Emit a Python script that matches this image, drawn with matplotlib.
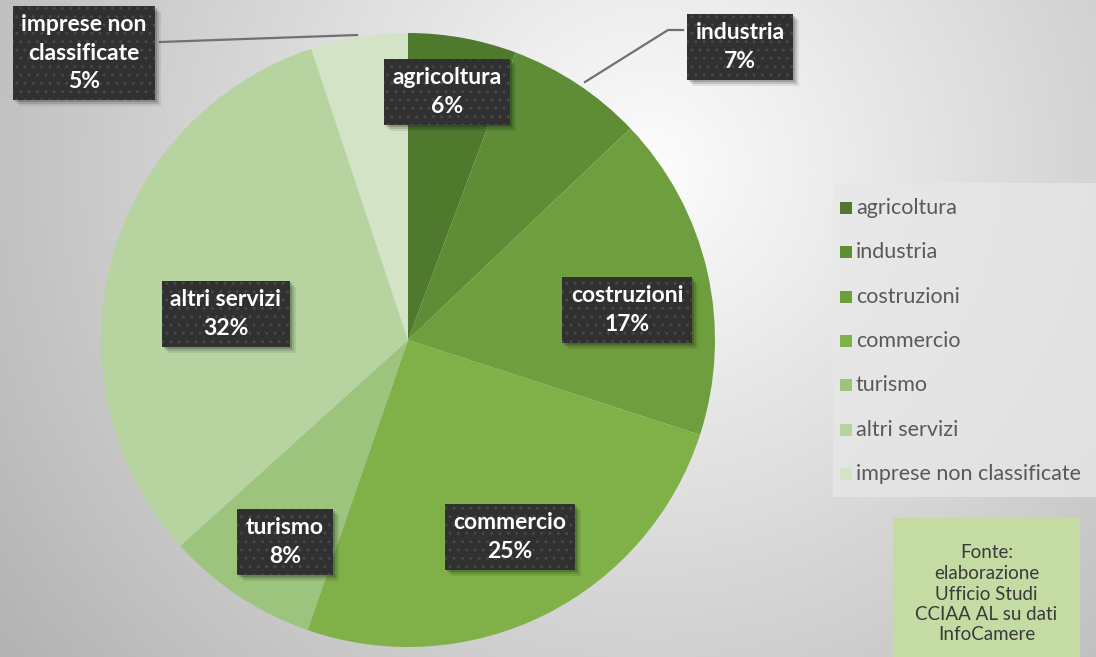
import matplotlib

matplotlib.use("Agg")
import matplotlib.pyplot as plt
import numpy as np
from matplotlib.patches import Rectangle

plt.rcParams["font.family"] = ["Lato", "DejaVu Sans"]

# share of firms by sector (percent, clockwise from 12 o'clock)
categories = ["agricoltura", "industria", "costruzioni", "commercio",
              "turismo", "altri servizi", "imprese non classificate"]
values = [5.7, 7.2, 17.1, 25.3, 8.0, 31.6, 5.1]
colors = ["#4f7a2e", "#5f8d36", "#6f9e3e", "#80b148",
          "#9cc47c", "#b6d3a0", "#d2e3c6"]
box_labels = ["agricoltura", "industria", "costruzioni", "commercio",
              "turismo", "altri servizi", "imprese non\nclassificate"]
source_text = "Fonte:\nelaborazione\nUfficio Studi\nCCIAA AL su dati\nInfoCamere"

W, H = 1096, 657
fig = plt.figure(figsize=(W / 100, H / 100), dpi=100)
ax = fig.add_axes([0, 0, 1, 1])

# soft radial grey background
yy, xx = np.mgrid[0:H, 0:W]
d = np.hypot(xx - 650, yy - (H - 170))
shade = np.clip(253 - 0.092 * d, 150, 255) / 255.0
ax.imshow(np.dstack([shade] * 3), extent=(0, W, 0, H), origin="lower",
          zorder=0, aspect="auto")

cx, cy, r = 408, H - 340, 307
wedges, _ = ax.pie(values, colors=colors, startangle=90, counterclock=False,
                   center=(cx, cy), radius=r, frame=True,
                   wedgeprops=dict(linewidth=0))
for w in wedges:
    w.set_zorder(2)
ax.set_xlim(0, W)
ax.set_ylim(0, H)
ax.set_aspect("auto")
ax.axis("off")

# label box centres in pixels (top-left origin)
label_pos = [(447, 92), (740, 47), (627, 310), (510, 537),
             (285, 542), (226, 314), (84, 53)]

# leader lines for the two labels placed outside the pie
ax.plot([160, 357], [H - 42, H - 35], color="#707070", lw=1.6, zorder=3)
ax.plot([683, 668, 585], [H - 30, H - 30, H - 82], color="#707070", lw=1.6, zorder=3)

boxes = []
for lab, v, (px, py) in zip(box_labels, values, label_pos):
    t = ax.text(px, H - py, f"{lab}\n{round(v):d}%", ha="center", va="center",
                fontsize=16.5, fontweight="bold", color="white", linespacing=1.42,
                zorder=5,
                bbox=dict(boxstyle="square,pad=0.38", fc="#303030", ec="#474747",
                          lw=0, hatch=".."))
    boxes.append(t)

# drop shadows behind the label boxes
fig.canvas.draw()
rend = fig.canvas.get_renderer()
inv = ax.transData.inverted()
for t in boxes:
    ext = t.get_bbox_patch().get_window_extent(rend)
    (x0, y0), (x1, y1) = inv.transform([(ext.x0, ext.y0), (ext.x1, ext.y1)])
    for k, a in ((6, 0.08), (4, 0.12), (2, 0.18)):
        ax.add_patch(Rectangle((x0 + k, y0 - k), x1 - x0, y1 - y0,
                               fc=(0, 0, 0, a), ec="none", zorder=4))

# legend panel
ax.add_patch(Rectangle((833, H - 497), 263, 314, fc="#e8e8e8", ec="none",
                       alpha=0.75, zorder=1))
leg_y = np.linspace(208, 474, len(categories))
for cat, col, ly in zip(categories, colors, leg_y):
    ax.add_patch(Rectangle((840, H - ly - 6), 12, 12, fc=col, ec="none", zorder=2))
    ax.text(856, H - ly, cat, ha="left", va="center", fontsize=15.5,
            color="#595959", zorder=2)

# source note
ax.add_patch(Rectangle((893, -5), 187, H - 518 + 5, fc="#c4dca4", ec="none",
                       zorder=1))
ax.text(986.5, H - 594, source_text, ha="center", va="center", fontsize=13.5,
        color="#3a3a3a", linespacing=1.25, zorder=2)

fig.savefig("out.png", dpi=100)
